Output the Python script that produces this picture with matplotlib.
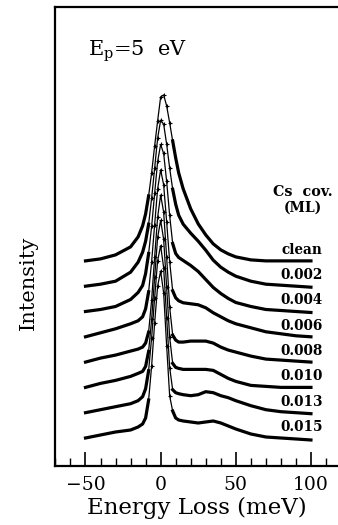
import numpy as np
import matplotlib.pyplot as plt
from matplotlib.ticker import MultipleLocator

plt.rcParams['font.family'] = 'DejaVu Serif'
plt.rcParams['mathtext.fontset'] = 'dejavuserif'

# energy loss grid (meV)
energy = [-50, -40, -30, -20, -15, -12, -10, -8, -6, -4, -2, 0, 2, 4, 6, 8,
          10, 12, 15, 20, 25, 30, 35, 40, 45, 50, 60, 70, 80, 90, 100]

coverage = ["clean", "0.002", "0.004", "0.006", "0.008", "0.010", "0.013", "0.015"]

# intensities (arb. units), before vertical offset
clean = [0, 2, 6, 14, 24, 35, 47, 65, 88, 115, 140, 164, 166, 155, 138, 120,
         103, 88, 72, 52, 37, 26, 17, 11, 7, 4, 1, 0, 0, 0, 0]
cs_002 = [0, 2, 5, 14, 24, 34, 45, 62, 88, 118, 148, 166, 162, 142, 118, 97,
          82, 71, 62, 53, 45, 36, 26, 19, 14, 10, 5, 2, 1, 0, -1]
cs_004 = [0, 2, 5, 12, 19, 26, 38, 58, 85, 118, 150, 167, 158, 130, 96, 68,
          58, 54, 51, 46, 40, 32, 24, 18, 13, 9, 5, 2, 1, 0, -1]
cs_006 = [0, 4, 8, 13, 16, 20, 28, 45, 75, 112, 148, 167, 152, 115, 75, 46,
          39, 36, 34, 33, 32, 29, 24, 20, 16, 13, 9, 5, 3, 1, 0]
cs_008 = [0, 4, 7, 11, 13, 15, 19, 30, 62, 105, 145, 167, 150, 105, 55, 27,
          22, 20, 20, 21, 21, 21, 19, 15, 12, 10, 6, 3, 2, 1, 0]
cs_010 = [0, 4, 7, 11, 14, 16, 21, 36, 68, 110, 150, 167, 148, 100, 50, 24,
          20, 19, 18, 18, 18, 18, 17, 13, 9, 6, 2, 1, 0, 0, 0]
cs_013 = [0, 3, 6, 9, 12, 16, 24, 42, 75, 115, 152, 167, 145, 95, 45, 23,
          20, 19, 18, 17, 18, 21, 20, 17, 15, 12, 7, 3, 1, 0, -1]
cs_015 = [0, 3, 6, 8, 11, 14, 20, 38, 72, 115, 152, 167, 145, 92, 42, 27,
          20, 18, 17, 16, 15, 16, 17, 15, 12, 9, 4, 1, 0, -1, -2]

spectra = [clean, cs_002, cs_004, cs_006, cs_008, cs_010, cs_013, cs_015]

fig = plt.figure(figsize=(3.38, 5.25), dpi=100)
ax = fig.add_axes([0.164, 0.1124, 0.836, 0.8743])

step = 25.3
x = np.array(energy)
wing = np.abs(x) >= 8
peak_idx = list(np.where(~wing)[0])
n = len(spectra)
for k, (lab, s) in enumerate(zip(coverage, spectra)):
    base = 28 + step * (n - 1 - k)
    y = np.array(s, dtype=float) + base
    ax.plot(x, y, color='black', lw=0.9, marker='+', ms=3.5, mew=0.8,
            markevery=peak_idx)
    ax.plot(x, np.where(wing, y, np.nan), color='black', lw=2.3)
    ax.text(107.7, base + 7, lab, ha='right', va='baseline',
            fontsize=9.8, fontweight='bold')

ax.text(94.5, 274, "Cs  cov.", ha='center', va='center', fontsize=10.3,
        fontweight='bold')
ax.text(94.5, 258, "(ML)", ha='center', va='center', fontsize=10,
        fontweight='bold')
ax.text(-48.4, 410, r'$\mathrm{E_p}$=5  eV', fontsize=15, va='baseline')

ax.set_xlim(-70, 118)
ax.set_ylim(0, 459)
ax.set_yticks([])
ax.xaxis.set_major_locator(MultipleLocator(50))
ax.xaxis.set_minor_locator(MultipleLocator(10))
ax.tick_params(axis='x', which='major', direction='in', length=10,
               width=1.2, labelsize=13.5, pad=7)
ax.tick_params(axis='x', which='minor', direction='in', length=5.5, width=1.0)
for side in ['left', 'bottom', 'top']:
    ax.spines[side].set_linewidth(1.6)
ax.spines['right'].set_visible(False)

fig.text(0.581, 1 - 508 / 525, 'Energy Loss (meV)', ha='center', va='center',
         fontsize=16.5)
fig.text(28 / 338, 1 - 283 / 525, 'Intensity', ha='center', va='center',
         rotation=90, fontsize=15)

fig.savefig('out.png', dpi=100)
